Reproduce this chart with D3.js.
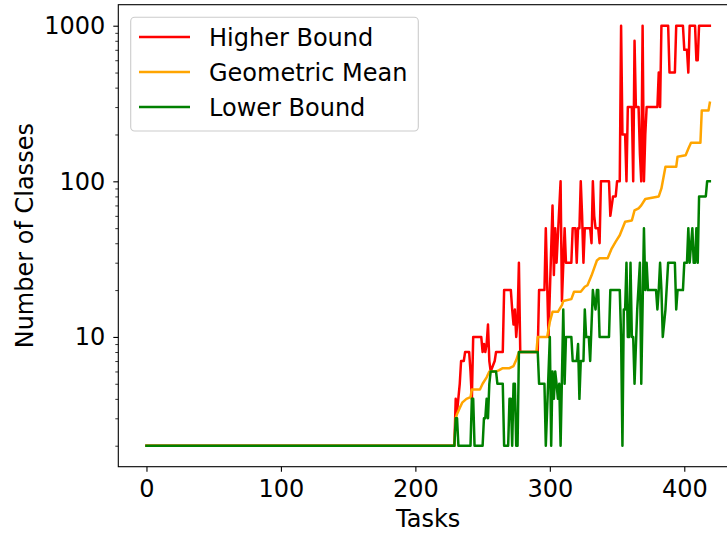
<!DOCTYPE html>
<html>
<head>
<meta charset="utf-8">
<script src="https://cdn.jsdelivr.net/npm/d3@7"></script>
<style>
  html, body { margin: 0; padding: 0; background: #fff; }
  svg { display: block; font-family: "DejaVu Sans", sans-serif; }
</style>
</head>
<body>
<svg id="chart" width="727" height="533"></svg>
<script>
// ---- data (task, number of classes) ----
const higherBound = [[0,2],[229,2],[230,4],[231,3.3],[233,5],[234,7],[236,7],[237,8],[240,8],[241,6],[242,4],[243,10],[249,10],[250,8],[251,9],[252,8],[253,9],[254,12],[255,7],[256,6],[259,7],[260,8],[265,8],[266,20],[271,20],[272,15],[273,12],[274,15],[275,10],[276,13],[277,30],[278,8],[291,8],[292,20],[296,20],[297,50],[299,10],[302,70],[303,25],[304,50],[305,30],[306,45],[308,100],[309,17],[311,50],[312,30],[316,30],[317,50],[319,50],[320,30],[321,50],[322,50],[323,100],[324,60],[325,30],[326,50],[330,50],[331,40],[332,100],[333,60],[334,50],[336,50],[337,40],[338,100],[344,100],[345,60],[347,80],[349,80],[350,100],[352,100],[353,1000],[354,200],[356,200],[357,100],[358,300],[361,300],[362,100],[363,800],[364,300],[366,300],[367,150],[368,100],[369,1000],[370,100],[371,200],[372,300],[380,300],[381,500],[382,300],[383,1000],[388,1000],[389,500],[393,500],[394,1000],[399,1000],[400,700],[402,700],[403,500],[404,1000],[408,1000],[409,600],[410,600],[411,1000],[419,1000]];

const geometricMean = [[0,2],[229,2],[230,3],[231,3.2],[233,3.5],[235,3.8],[238,4],[241,4.1],[242,4.6],[248,4.6],[250,5],[253,5.5],[255,6],[260,6],[262,6.1],[265,6.3],[270,6.3],[273,6.5],[275,7.1],[277,8],[290,8],[291,10],[298,10],[300,12.5],[302,14.5],[306,14.5],[309,16],[310,17],[316,17.5],[318,19.5],[323,19.5],[326,21],[328,21.5],[331,24.8],[335,31],[337,32],[343,32],[346,37],[349,41],[352,45],[356,55],[361,56],[363,65],[366,67],[368,70],[371,77],[381,80],[383,90],[386,124],[394,124],[395,144],[401,147],[403,162],[405,177],[412,177],[413,285],[418,285],[419,320]];

const lowerBound = [[0,2],[229,2],[230,3],[231,3],[232,2],[241,2],[242,4],[243,4],[244,2],[250,2],[251,3],[252,3],[253,4],[254,3],[255,5],[256,6],[260,6],[261,5],[265,5],[266,2],[269,2],[270,4],[271,4],[272,2],[273,5],[274,5],[275,2],[276,2],[277,8],[291,8],[292,5],[296,5],[297,2],[300,10],[301,2],[302,6],[303,4],[304,6],[305,5],[306,4],[307,5],[308,2],[310,15],[311,5],[312,10],[316,10],[317,7],[320,7],[321,9],[322,4],[323,7],[325,7],[326,15],[327,10],[329,10],[330,7],[332,20],[333,17],[334,15],[335,20],[336,20],[337,10],[344,10],[345,20],[352,20],[353,10],[354,2],[355,15],[356,15],[357,30],[358,10],[359,10],[360,30],[361,10],[362,10],[363,5],[365,15],[367,30],[368,5],[370,50],[371,20],[372,30],[373,20],[379,20],[380,15],[381,20],[382,30],[383,20],[384,10],[386,15],[388,30],[393,30],[394,15],[395,20],[399,20],[400,30],[402,30],[403,50],[404,30],[406,50],[407,30],[408,30],[409,50],[410,30],[411,80],[416,80],[417,100],[419,100]];

const seriesNames = ["Higher Bound", "Geometric Mean", "Lower Bound"];
const seriesColors = ["#ff0000", "#ffa500", "#008000"];
const xTicks = [0, 100, 200, 300, 400];
const yTicks = [10, 100, 1000];
const xLabel = "Tasks";
const yLabel = "Number of Classes";

// ---- layout ----
const svg = d3.select("#chart");
const L = 118.3, R = 738, T = 4.7, B = 466.7;
const FS = 24;

const x = d3.scaleLinear().domain([-20.95, 439.95]).range([L, R]);
const y = d3.scaleLog().domain([1.4659, 1364.6]).range([B, T]);

// clip
svg.append("clipPath").attr("id", "clip")
  .append("rect").attr("x", L).attr("y", T).attr("width", R - L).attr("height", B - T);

// lines
const line = d3.line().x(d => x(d[0])).y(d => y(d[1]));
const allSeries = [higherBound, geometricMean, lowerBound];
const lines = svg.append("g").attr("clip-path", "url(#clip)");
allSeries.forEach((s, i) => {
  lines.append("path").datum(s)
    .attr("d", line)
    .attr("fill", "none")
    .attr("stroke", seriesColors[i])
    .attr("stroke-width", 2.5)
    .attr("stroke-linejoin", "round")
    .attr("stroke-linecap", "square");
});

// axes
const xAxis = d3.axisBottom(x).tickValues(xTicks).tickSize(5).tickPadding(8).tickFormat(d3.format("d"));
const gx = svg.append("g").attr("transform", `translate(0,${B})`).call(xAxis);
gx.select(".domain").remove();
gx.selectAll("text").attr("font-size", FS).attr("font-family", "DejaVu Sans").attr("fill", "#000");
gx.selectAll("line").attr("stroke", "#000").attr("stroke-width", 1.1);

const yAxis = d3.axisLeft(y).tickValues(yTicks).tickSize(5).tickPadding(8).tickFormat(d3.format("d"));
const gy = svg.append("g").attr("transform", `translate(${L},0)`).call(yAxis);
gy.select(".domain").remove();
gy.selectAll("text").attr("font-size", FS).attr("font-family", "DejaVu Sans").attr("fill", "#000");
gy.selectAll("line").attr("stroke", "#000").attr("stroke-width", 1.1);

// minor y ticks
const minor = [];
[1, 10, 100].forEach(dec => { for (let k = 2; k <= 9; k++) minor.push(k * dec); });
const yMinor = d3.axisLeft(y).tickValues(minor.filter(v => v >= 1.4659 && v <= 1364.6)).tickSize(3).tickFormat("");
const gym = svg.append("g").attr("transform", `translate(${L},0)`).call(yMinor);
gym.select(".domain").remove();
gym.selectAll("line").attr("stroke", "#000").attr("stroke-width", 0.8);

// spines (right spine falls outside the picture)
svg.append("rect").attr("x", L).attr("y", T).attr("width", R - L).attr("height", B - T)
  .attr("fill", "none").attr("stroke", "#000").attr("stroke-width", 1.1);

// axis labels
svg.append("text").attr("x", (L + R) / 2).attr("y", 527)
  .attr("text-anchor", "middle").attr("font-size", FS).text(xLabel);
svg.append("text").attr("transform", `translate(33,${(T + B) / 2}) rotate(-90)`)
  .attr("text-anchor", "middle").attr("font-size", FS).text(yLabel);

// legend
const lg = svg.append("g");
lg.append("rect").attr("x", 130.7).attr("y", 17.3).attr("width", 287.6).attr("height", 113.7)
  .attr("rx", 4).attr("fill", "#fff").attr("fill-opacity", 0.8)
  .attr("stroke", "#cccccc").attr("stroke-width", 1.1);
seriesNames.forEach((n, i) => {
  const yy = 37 + i * 35;
  lg.append("line").attr("x1", 139).attr("x2", 190).attr("y1", yy).attr("y2", yy)
    .attr("stroke", seriesColors[i]).attr("stroke-width", 2.5);
  lg.append("text").attr("x", 209).attr("y", yy + 8.5).attr("font-size", FS).text(n);
});
</script>
</body>
</html>
